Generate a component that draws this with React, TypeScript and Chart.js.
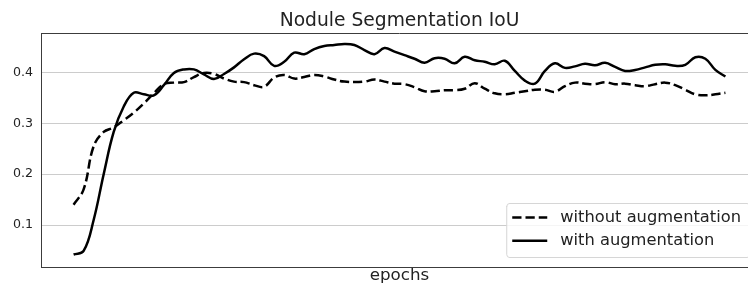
import React, { useEffect, useRef } from "react";
import { Chart, registerables } from "chart.js";

Chart.register(...registerables);

const TITLE = "Nodule Segmentation IoU";
const X_LABEL = "epochs";
const Y_TICKS = [0.1, 0.2, 0.3, 0.4];

const WITHOUT_LABEL = "without augmentation";
const WITH_LABEL = "with augmentation";

const WITHOUT_AUG = [
  0.14, 0.17, 0.255, 0.283, 0.292, 0.306, 0.321, 0.339, 0.359, 0.377,
  0.38, 0.381, 0.391, 0.399, 0.397, 0.388, 0.382, 0.381, 0.375, 0.372,
  0.39, 0.395, 0.388, 0.391, 0.395, 0.392, 0.386, 0.382, 0.381, 0.382,
  0.386, 0.382, 0.378, 0.377, 0.371, 0.363, 0.363, 0.365, 0.365, 0.368,
  0.379, 0.368, 0.359, 0.357, 0.36, 0.363, 0.366, 0.366, 0.362, 0.373,
  0.38, 0.378, 0.377, 0.381, 0.377, 0.378, 0.375, 0.373, 0.377, 0.38,
  0.375, 0.366, 0.357, 0.355, 0.357, 0.36,
];

const WITH_AUG = [
  0.042, 0.049, 0.11, 0.2, 0.283, 0.333, 0.36, 0.357, 0.355, 0.375,
  0.399, 0.406, 0.406, 0.396, 0.387, 0.397, 0.41, 0.426, 0.437, 0.432,
  0.413, 0.421, 0.439, 0.436, 0.446, 0.452, 0.454, 0.456, 0.454, 0.444,
  0.436, 0.448, 0.441, 0.434, 0.427, 0.419, 0.428, 0.427, 0.418, 0.431,
  0.424, 0.421, 0.416, 0.423, 0.403, 0.384, 0.378, 0.403, 0.418, 0.409,
  0.412, 0.417, 0.414, 0.419, 0.411, 0.403, 0.405, 0.41, 0.415, 0.416,
  0.413, 0.415, 0.43, 0.427, 0.405, 0.392,
];

const EPOCHS = WITH_AUG.map((_, i) => i + 1);

const FONT = "'DejaVu Sans', sans-serif";
const TEXT_COLOR = "#222222";
const SPINE_COLOR = "#3c3c3c";

const framePlugin = {
  id: "frame",
  beforeDatasetsDraw(chart: any) {
    const { ctx, chartArea } = chart;
    ctx.save();
    ctx.strokeStyle = SPINE_COLOR;
    ctx.lineWidth = 1;
    ctx.beginPath();
    ctx.moveTo(chartArea.left, Math.round(chartArea.top) + 0.5);
    ctx.lineTo(chartArea.right, Math.round(chartArea.top) + 0.5);
    ctx.moveTo(Math.round(chartArea.right) - 0.5, chartArea.top);
    ctx.lineTo(Math.round(chartArea.right) - 0.5, chartArea.bottom);
    ctx.stroke();
    ctx.restore();
  },
};

const legendPlugin = {
  id: "mplLegend",
  afterDraw(chart: any) {
    const { ctx, chartArea } = chart;
    const datasets = chart.data.datasets;
    const fontSize = 16.3;
    ctx.save();
    ctx.font = `${fontSize}px ${FONT}`;
    let maxW = 0;
    datasets.forEach((d: any) => {
      maxW = Math.max(maxW, ctx.measureText(d.label).width);
    });
    const right = chartArea.right - 8;
    const bottom = chartArea.bottom - 10;
    const textX = right - 9 - maxW;
    const lineEnd = textX - 13;
    const lineStart = lineEnd - 35;
    const left = lineStart - 6;
    const rowGap = 23.3;
    const top = bottom - 54;
    const firstRow = top + 14.5;

    // box
    const r = 3;
    ctx.beginPath();
    ctx.moveTo(left + r, top + 0.5);
    ctx.lineTo(right - r, top + 0.5);
    ctx.arcTo(right, top + 0.5, right, top + r, r);
    ctx.lineTo(right, bottom - r);
    ctx.arcTo(right, bottom + 0.5, right - r, bottom + 0.5, r);
    ctx.lineTo(left + r, bottom + 0.5);
    ctx.arcTo(left + 0.5, bottom + 0.5, left + 0.5, bottom - r, r);
    ctx.lineTo(left + 0.5, top + r);
    ctx.arcTo(left + 0.5, top + 0.5, left + r, top + 0.5, r);
    ctx.closePath();
    ctx.fillStyle = "rgba(255,255,255,0.8)";
    ctx.fill();
    ctx.strokeStyle = "#d6d6d6";
    ctx.lineWidth = 1;
    ctx.stroke();

    datasets.forEach((d: any, i: number) => {
      const y = firstRow + i * rowGap;
      ctx.beginPath();
      ctx.setLineDash(d.borderDash || []);
      ctx.strokeStyle = d.borderColor;
      ctx.lineWidth = d.borderWidth;
      ctx.lineCap = "butt";
      ctx.moveTo(lineStart, y);
      ctx.lineTo(lineEnd, y);
      ctx.stroke();
      ctx.setLineDash([]);
      ctx.fillStyle = TEXT_COLOR;
      ctx.textBaseline = "middle";
      ctx.textAlign = "left";
      ctx.fillText(d.label, textX, y);
    });
    ctx.restore();
  },
};

export default function App() {
  const canvasRef = useRef<HTMLCanvasElement | null>(null);

  useEffect(() => {
    const canvas = canvasRef.current;
    if (!canvas) return;
    const chart = new Chart(canvas, {
      type: "line",
      data: {
        datasets: [
          {
            label: WITHOUT_LABEL,
            data: EPOCHS.map((e, i) => ({ x: e, y: WITHOUT_AUG[i] })),
            borderColor: "#000000",
            borderWidth: 2.5,
            borderDash: [9.25, 4],
            pointRadius: 0,
            tension: 0.4,
            fill: false,
          },
          {
            label: WITH_LABEL,
            data: EPOCHS.map((e, i) => ({ x: e, y: WITH_AUG[i] })),
            borderColor: "#000000",
            borderWidth: 2.5,
            pointRadius: 0,
            tension: 0.4,
            fill: false,
          },
        ],
      },
      options: {
        responsive: false,
        animation: false,
        devicePixelRatio: 1,
        layout: { padding: 0 },
        plugins: {
          legend: { display: false },
          tooltip: { enabled: false },
          title: {
            display: true,
            text: TITLE,
            fullSize: false,
            color: TEXT_COLOR,
            font: { family: FONT, size: 18.7, weight: "normal" },
            padding: { top: 9.8, bottom: 0.8 },
          },
        },
        scales: {
          x: {
            type: "linear",
            min: EPOCHS[0] - 3.25,
            max: EPOCHS[EPOCHS.length - 1] + 3.25,
            grid: { display: false },
            border: { display: true, color: SPINE_COLOR, width: 1 },
            ticks: { display: false },
            title: {
              display: true,
              text: X_LABEL,
              color: TEXT_COLOR,
              font: { family: FONT, size: 16.7 },
              padding: { top: 0, bottom: 0 },
            },
            afterFit(scale: any) {
              scale.height = 19;
            },
          },
          y: {
            type: "linear",
            min: 0.0175,
            max: 0.4775,
            grid: {
              display: true,
              color: "#cccccc",
              lineWidth: 1,
              drawTicks: false,
            },
            border: { display: true, color: SPINE_COLOR, width: 1 },
            ticks: {
              color: TEXT_COLOR,
              font: { family: FONT, size: 12.6 },
              padding: 8,
              callback: (v: any) => Number(v).toFixed(1),
            },
            afterBuildTicks(scale: any) {
              scale.ticks = Y_TICKS.map((v) => ({ value: v }));
            },
            afterFit(scale: any) {
              scale.width = 41;
            },
          },
        },
      },
      plugins: [framePlugin, legendPlugin],
    });
    return () => chart.destroy();
  }, []);

  return (
    <div
      style={{
        position: "fixed",
        left: 0,
        top: 0,
        width: 748,
        height: 286,
        overflow: "hidden",
        background: "#ffffff",
      }}
    >
      <canvas
        ref={canvasRef}
        width={758}
        height={286}
        style={{ display: "block", width: 758, height: 286 }}
      />
    </div>
  );
}
